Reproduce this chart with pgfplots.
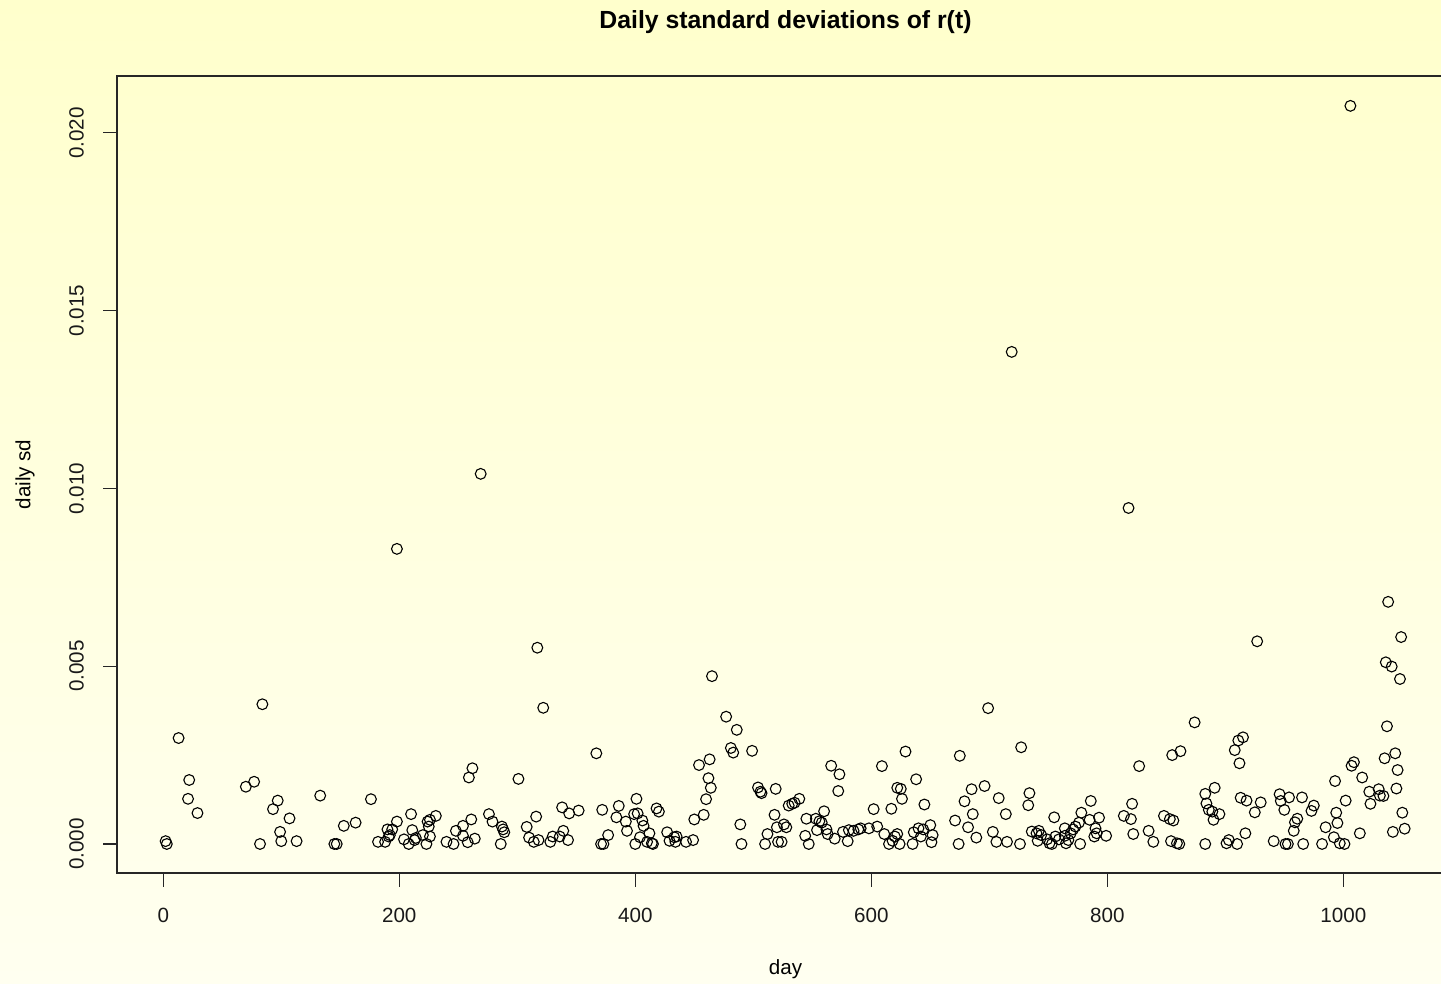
\documentclass[border=0pt]{standalone}
\usepackage{pgfplots}
\pgfplotsset{compat=1.18}
\usepackage{pgfplotstable}
\usepackage{fontspec}
\setmainfont{Liberation Sans}
\definecolor{bgtop}{RGB}{255,255,204}
\definecolor{bgbot}{RGB}{255,255,240}
\pgfplotstableread{
day sd
2 0.00008
3 0.00000
13 0.00298
21 0.00127
22 0.00180
29 0.00087
70 0.00161
77 0.00175
82 0.00000
84 0.00393
93 0.00098
97 0.00122
99 0.00034
100 0.00008
107 0.00072
113 0.00008
133 0.00136
145 0.00000
147 0.00000
153 0.00051
163 0.00060
176 0.00126
182 0.00006
188 0.00006
190 0.00041
191 0.00021
192 0.00025
194 0.00041
198 0.00063
198 0.00830
204 0.00013
208 0.00000
210 0.00084
211 0.00039
213 0.00011
214 0.00017
220 0.00025
223 0.00000
224 0.00063
225 0.00049
226 0.00068
226 0.00021
231 0.00079
240 0.00006
246 0.00000
248 0.00037
254 0.00051
254 0.00023
258 0.00005
259 0.00187
261 0.00069
262 0.00213
264 0.00015
269 0.01041
276 0.00084
279 0.00063
286 0.00000
287 0.00049
288 0.00041
289 0.00033
301 0.00183
308 0.00048
310 0.00018
314 0.00006
316 0.00077
317 0.00552
318 0.00011
322 0.00383
328 0.00006
330 0.00021
336 0.00021
338 0.00103
339 0.00037
343 0.00011
344 0.00086
352 0.00094
367 0.00255
371 0.00000
372 0.00096
373 0.00000
377 0.00025
384 0.00075
386 0.00107
392 0.00063
393 0.00037
399 0.00084
400 0.00000
401 0.00127
402 0.00086
404 0.00019
406 0.00066
407 0.00051
410 0.00006
412 0.00030
414 0.00002
415 0.00000
418 0.00100
420 0.00091
427 0.00033
429 0.00009
433 0.00019
434 0.00006
435 0.00021
443 0.00006
449 0.00011
450 0.00069
454 0.00222
458 0.00082
460 0.00126
462 0.00185
463 0.00238
464 0.00158
465 0.00472
477 0.00358
481 0.00270
483 0.00257
486 0.00321
489 0.00055
490 0.00000
499 0.00262
504 0.00159
506 0.00147
507 0.00143
510 0.00000
512 0.00028
518 0.00082
519 0.00155
520 0.00047
521 0.00006
524 0.00006
526 0.00055
528 0.00047
530 0.00108
533 0.00113
535 0.00116
539 0.00127
544 0.00023
545 0.00071
547 0.00000
553 0.00071
554 0.00039
556 0.00064
558 0.00060
560 0.00092
562 0.00041
563 0.00028
566 0.00220
569 0.00015
572 0.00149
573 0.00196
576 0.00034
580 0.00008
581 0.00039
585 0.00037
589 0.00041
591 0.00044
598 0.00044
602 0.00098
605 0.00049
609 0.00219
611 0.00028
615 0.00000
617 0.00099
618 0.00009
620 0.00021
622 0.00028
622 0.00158
624 0.00000
625 0.00155
626 0.00127
629 0.00260
635 0.00000
636 0.00033
638 0.00182
640 0.00044
642 0.00021
644 0.00041
645 0.00111
650 0.00053
651 0.00005
652 0.00025
671 0.00066
674 0.00000
675 0.00248
679 0.00120
682 0.00047
685 0.00154
686 0.00084
689 0.00018
696 0.00163
699 0.00382
703 0.00034
706 0.00006
708 0.00129
714 0.00084
715 0.00006
719 0.01384
726 0.00000
727 0.00272
733 0.00109
734 0.00143
736 0.00035
740 0.00030
741 0.00009
742 0.00037
744 0.00025
749 0.00013
751 0.00002
753 0.00000
755 0.00075
756 0.00021
759 0.00013
764 0.00023
764 0.00044
765 0.00002
767 0.00011
769 0.00030
771 0.00041
773 0.00049
776 0.00060
777 0.00000
778 0.00088
785 0.00068
786 0.00121
789 0.00021
790 0.00044
791 0.00030
793 0.00074
799 0.00023
814 0.00079
818 0.00945
820 0.00070
821 0.00113
822 0.00028
827 0.00219
835 0.00037
839 0.00006
848 0.00079
853 0.00070
854 0.00008
855 0.00250
856 0.00066
859 0.00002
861 0.00000
862 0.00261
874 0.00342
883 0.00141
883 0.00000
884 0.00114
886 0.00096
889 0.00091
890 0.00068
891 0.00158
895 0.00084
901 0.00002
903 0.00011
908 0.00264
910 0.00000
911 0.00291
912 0.00227
913 0.00130
915 0.00300
917 0.00030
918 0.00122
925 0.00089
927 0.00570
930 0.00117
941 0.00008
946 0.00140
947 0.00121
950 0.00096
951 0.00000
953 0.00000
954 0.00131
958 0.00037
959 0.00061
961 0.00071
965 0.00131
966 0.00000
973 0.00093
975 0.00108
982 0.00000
985 0.00047
992 0.00019
993 0.00177
994 0.00088
995 0.00059
997 0.00002
1001 0.00000
1002 0.00122
1006 0.02076
1007 0.00220
1009 0.00230
1014 0.00030
1016 0.00187
1022 0.00147
1023 0.00113
1030 0.00154
1031 0.00136
1034 0.00135
1035 0.00241
1036 0.00511
1037 0.00331
1038 0.00681
1041 0.00499
1042 0.00034
1044 0.00255
1045 0.00156
1046 0.00208
1048 0.00464
1049 0.00582
1050 0.00088
1052 0.00043
}\sdtable
\begin{document}
\begin{tikzpicture}
\path[use as bounding box] (-58.5pt,-55.5pt) rectangle (662pt,436.5pt);
\shade[top color=bgtop, bottom color=bgbot] (-58.5pt,-55.5pt) rectangle (662pt,436.5pt);
\begin{axis}[
  at={(0pt,0pt)}, anchor=south west,
  scale only axis, width=668.5pt, height=398.5pt,
  xmin=-39.2, xmax=1093.8, ymin=-0.000816, ymax=0.0216,
  axis line style={line width=0.6pt, black!85},
  every tick/.style={line width=0.6pt, black!85},
  tick align=outside, major tick length=7pt,
  xtick pos=bottom, ytick pos=left,
  xtick={0,200,400,600,800,1000},
  xticklabels={0,200,400,600,800,1000},
  ytick={0,0.005,0.01,0.015,0.02},
  yticklabels={0.000,0.005,0.010,0.015,0.020},
  scaled ticks=false,
  tick label style={font=\fontsize{10.3}{12}\selectfont, text=black!90},
  xticklabel style={anchor=north, inner sep=0pt},
  xticklabel shift=10.4pt,
  yticklabel style={rotate=90, anchor=south, inner sep=0pt},
  yticklabel shift=9.4pt,
  xlabel={day}, ylabel={daily sd},
  xlabel style={at={(axis description cs:0.5,-0.1204)}, anchor=center, font=\fontsize{10.3}{12}\selectfont},
  ylabel style={at={(axis description cs:-0.0688,0.5)}, anchor=center, rotate=0, font=\fontsize{10.3}{12}\selectfont},
  every axis title shift=0pt,
  title={Daily standard deviations of r(t)},
  title style={at={(axis description cs:0.5,1.0678)}, anchor=center, font=\fontsize{12.4}{15}\selectfont\bfseries},
  clip=false,
]
\addplot[only marks, mark=o, mark size=2.7pt, line width=0.55pt, black] table[x=day, y=sd] {\sdtable};
\end{axis}
\end{tikzpicture}
\end{document}
